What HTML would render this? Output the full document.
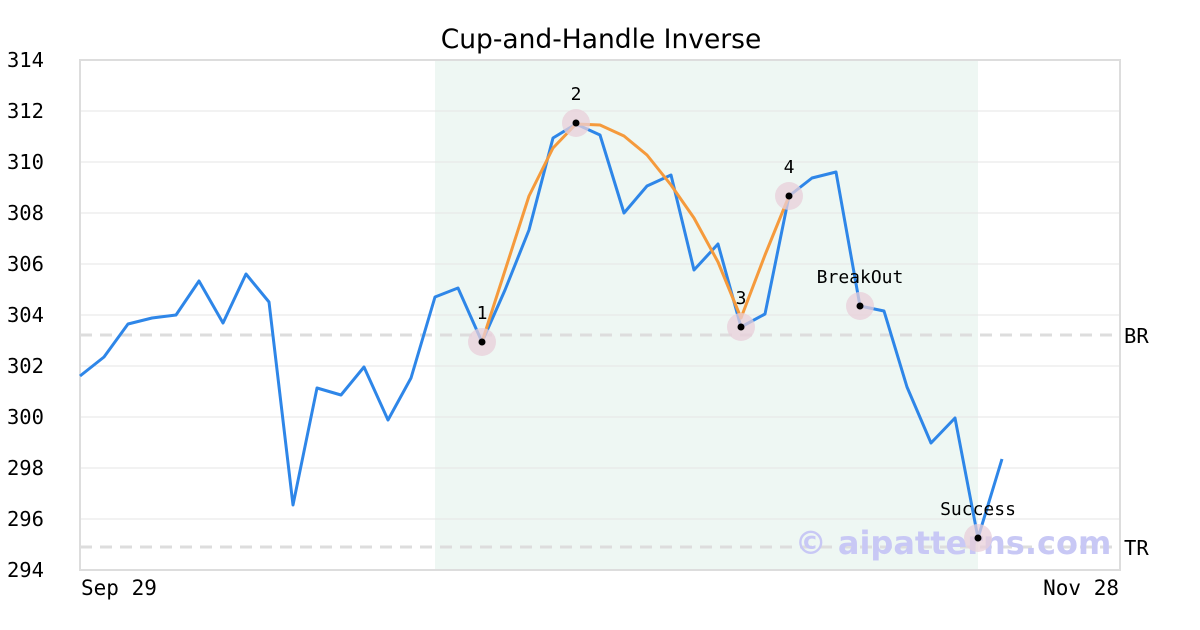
<!DOCTYPE html>
<html><head><meta charset="utf-8"><style>
body{margin:0;background:#fff;}
svg{display:block;}
text{font-family:"DejaVu Sans Mono","Liberation Mono",monospace;}
</style></head><body>
<svg width="1200" height="630" viewBox="0 0 1200 630" xmlns="http://www.w3.org/2000/svg">
<rect width="1200" height="630" fill="#fff"/>
<text x="601" y="48" text-anchor="middle" font-size="26.5" style="font-family:'DejaVu Sans','Liberation Sans',sans-serif" fill="#000">Cup-and-Handle Inverse</text>
<rect x="435" y="60" width="543" height="510" fill="#eef7f3"/>
<g stroke="#e6e6e6" stroke-width="1">
<line x1="80" x2="1120" y1="111" y2="111"/><line x1="80" x2="1120" y1="162" y2="162"/>
<line x1="80" x2="1120" y1="213" y2="213"/><line x1="80" x2="1120" y1="264" y2="264"/>
<line x1="80" x2="1120" y1="315" y2="315"/><line x1="80" x2="1120" y1="366" y2="366"/>
<line x1="80" x2="1120" y1="417" y2="417"/><line x1="80" x2="1120" y1="468" y2="468"/>
<line x1="80" x2="1120" y1="519" y2="519"/>
</g>
<rect x="80" y="60" width="1040" height="510" fill="none" stroke="#dddddd" stroke-width="2"/>
<g stroke="#dddddd" stroke-width="3" stroke-dasharray="12,8">
<line x1="80" x2="1120" y1="335" y2="335"/><line x1="80" x2="1120" y1="547" y2="547"/>
</g>
<g font-size="20.5" fill="#000" text-anchor="end">
<text x="44" y="67">314</text><text x="44" y="118">312</text><text x="44" y="169">310</text>
<text x="44" y="220">308</text><text x="44" y="271">306</text><text x="44" y="322">304</text>
<text x="44" y="373">302</text><text x="44" y="424">300</text><text x="44" y="475">298</text>
<text x="44" y="526">296</text><text x="44" y="577">294</text>
</g>
<text x="1124" y="343" font-size="20.5">BR</text>
<text x="1124" y="555" font-size="20.5">TR</text>
<text x="81" y="595" font-size="21">Sep 29</text>
<text x="1119" y="595" font-size="21" text-anchor="end">Nov 28</text>
<text x="953" y="554" font-size="32" font-weight="bold" fill="#c8c8f5" text-anchor="middle" style="font-family:'DejaVu Sans','Liberation Sans',sans-serif">© aipatterns.com</text>
<polyline fill="none" stroke="#2e86e8" stroke-width="3" stroke-linejoin="round" points="80,376 104,357 128,324 152,318 176,315 199,281 223,323 246,274 269,302 293,505 317,388 341,395 364,367 388,420 411,378 435,297 458,288 482,342 505,290 529,230 553,138 576,124 600,135 624,213 647,186 671,175 694,270 718,244 741,327 765,314 789,196 812,178 836,172 860,306 884,311 907,387 931,443 955,418 978,538 1002,459"/>
<polyline fill="none" stroke="#f59a3c" stroke-width="3" stroke-linejoin="round" points="482,342 529,196 553,148 576,124 600,125 624,136 647,155 671,185 694,218 718,262 741,318 765,255 789,196"/>
<g fill="#e8cfd9" fill-opacity="0.75">
<circle cx="482" cy="342" r="14"/><circle cx="576" cy="123" r="14"/><circle cx="741" cy="327" r="14"/>
<circle cx="789" cy="196" r="14"/><circle cx="860" cy="306" r="14"/><circle cx="978" cy="538" r="14"/>
</g>
<g fill="#000">
<circle cx="482" cy="342" r="3.5"/><circle cx="576" cy="123" r="3.5"/><circle cx="741" cy="327" r="3.5"/>
<circle cx="789" cy="196" r="3.5"/><circle cx="860" cy="306" r="3.5"/><circle cx="978" cy="538" r="3.5"/>
</g>
<g font-size="18" fill="#000" text-anchor="middle">
<text x="482" y="319">1</text><text x="576" y="100">2</text><text x="741" y="304">3</text>
<text x="789" y="173">4</text><text x="860" y="283">BreakOut</text><text x="978" y="515">Success</text>
</g>
</svg>
</body></html>
